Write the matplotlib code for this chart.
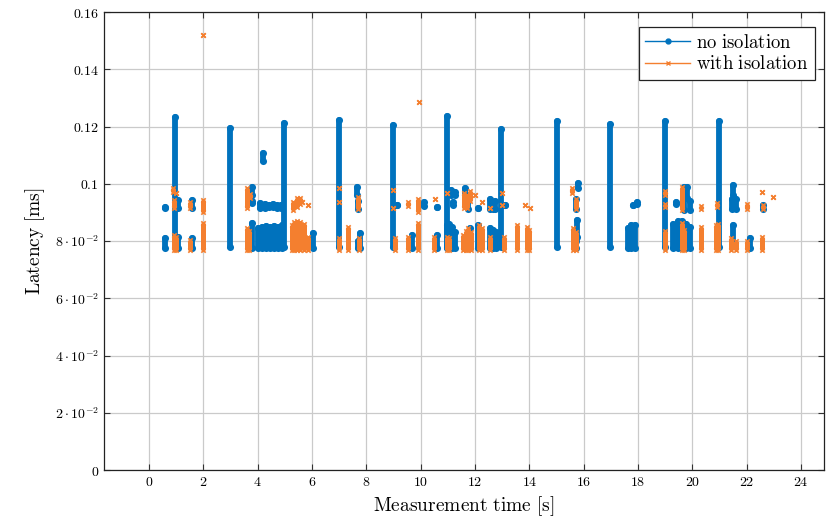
import matplotlib
matplotlib.use("Agg")
import matplotlib.pyplot as plt
from matplotlib.ticker import FixedLocator, FixedFormatter
import numpy as np

plt.rcParams['mathtext.fontset'] = 'cm'
plt.rcParams['font.family'] = ['DejaVu Serif']

# ---- data: vertical runs of measurements (time [s], latency low, latency high [ms]) ----
blue_x = [0.59, 0.59, 0.96, 1.05, 1.08, 1.57, 1.57, 2.97, 3.78, 3.78, 3.78,
          4.1, 4.25, 4.4, 4.55, 4.7, 4.85, 4.2,
          4.0, 4.15, 4.3, 4.45, 4.6, 4.75, 4.9,
          4.97, 6.04, 6.98, 7.65, 7.7, 7.75, 7.7,
          8.97, 9.12, 9.67, 10.1, 10.61, 10.61,
          10.96, 11.1, 11.2, 11.26, 10.95, 11.05, 11.15, 11.25,
          11.63, 11.75, 11.8, 12.12, 12.12, 12.55, 12.65, 12.73, 12.55, 12.65, 12.75,
          12.97, 13.1, 15.0, 15.8, 15.72, 15.75, 15.7,
          16.98, 17.63, 17.8, 17.95, 17.75, 17.9,
          18.99, 19.4, 19.7, 19.8, 19.9, 19.3, 19.45, 19.6, 19.75, 19.9,
          20.96, 21.5, 21.45, 21.6, 21.5, 22.1, 22.6]
blue_lo = [0.0915, 0.0776, 0.0779, 0.0915, 0.0776, 0.0915, 0.0776, 0.0779, 0.0961, 0.0932, 0.0776,
           0.0915, 0.0915, 0.0918, 0.0918, 0.0915, 0.0915, 0.1078,
           0.0776, 0.0776, 0.0776, 0.0776, 0.0776, 0.0776, 0.0776,
           0.0779, 0.0776, 0.0779, 0.0961, 0.0912, 0.0776, 0.0776,
           0.0779, 0.0926, 0.0776, 0.0922, 0.0918, 0.0776,
           0.0779, 0.0961, 0.0926, 0.0961, 0.0776, 0.0776, 0.0776, 0.0776,
           0.0961, 0.0912, 0.0776, 0.0917, 0.0776, 0.0912, 0.0912, 0.0912, 0.0776, 0.0776, 0.0776,
           0.0779, 0.0926, 0.0779, 0.0985, 0.0912, 0.0814, 0.0776,
           0.0779, 0.0776, 0.0926, 0.0930, 0.0776, 0.0776,
           0.0779, 0.0928, 0.0910, 0.0950, 0.0910, 0.0776, 0.0776, 0.0776, 0.0776, 0.0776,
           0.0779, 0.0961, 0.0912, 0.0912, 0.0798, 0.0776, 0.0912]
blue_hi = [0.0920, 0.0811, 0.1232, 0.0943, 0.0815, 0.0943, 0.0811, 0.1194, 0.0989, 0.0940, 0.0863,
           0.0933, 0.0930, 0.0925, 0.0928, 0.0925, 0.0925, 0.1108,
           0.0845, 0.0850, 0.0852, 0.0848, 0.0852, 0.0850, 0.0856,
           0.1211, 0.0828, 0.1222, 0.0989, 0.0940, 0.0828, 0.0800,
           0.1205, 0.0926, 0.0821, 0.0937, 0.0918, 0.0821,
           0.1237, 0.0978, 0.0937, 0.0970, 0.0856, 0.0860, 0.0850, 0.0830,
           0.0985, 0.0952, 0.0845, 0.0917, 0.0856, 0.0945, 0.0935, 0.0940, 0.0845, 0.0840, 0.0830,
           0.1190, 0.0926, 0.1218, 0.1002, 0.0945, 0.0873, 0.0800,
           0.1209, 0.0845, 0.0926, 0.0935, 0.0856, 0.0856,
           0.1218, 0.0935, 0.0990, 0.0990, 0.0940, 0.0860, 0.0870, 0.0870, 0.0860, 0.0850,
           0.1219, 0.0996, 0.0945, 0.0945, 0.0856, 0.0810, 0.0925]

orange_x = [0.88, 0.92, 1.0, 0.9, 0.98, 1.52, 1.52, 1.99, 1.99, 1.99,
            3.62, 3.7, 3.6, 3.68,
            5.3, 5.45, 5.55, 5.62, 5.25, 5.35, 5.45, 5.55, 5.7, 5.85, 5.85,
            6.98, 6.98, 6.98, 7.32, 7.7, 7.72,
            8.97, 8.97, 9.05, 9.54, 9.52, 9.9, 9.9, 9.94, 10.53, 10.5,
            10.96, 10.95, 11.05, 11.6, 11.7, 11.8, 11.55, 11.65, 11.75, 11.85,
            12.0, 12.24, 12.15, 12.25, 12.55, 12.55, 12.98, 12.98, 13.05, 13.53, 13.84, 14.02, 13.9, 14.0,
            15.57, 15.7, 15.6, 15.7,
            18.99, 18.99, 19.0, 19.6, 19.6, 19.7, 20.3, 20.3,
            20.9, 20.85, 20.95, 21.4, 21.6, 22.0, 22.02, 22.55, 22.6, 22.55, 22.98]
orange_lo = [0.0971, 0.0915, 0.0966, 0.0769, 0.0769, 0.0915, 0.0769, 0.1520, 0.0903, 0.0769,
             0.0915, 0.0950, 0.0769, 0.0769,
             0.0910, 0.0920, 0.0930, 0.0937, 0.0769, 0.0769, 0.0769, 0.0769, 0.0769, 0.0926, 0.0769,
             0.0985, 0.0937, 0.0769, 0.0769, 0.0912, 0.0769,
             0.0978, 0.0915, 0.0769, 0.0922, 0.0769, 0.0903, 0.0769, 0.1286, 0.0947, 0.0769,
             0.0966, 0.0769, 0.0769, 0.0915, 0.0915, 0.0940, 0.0769, 0.0769, 0.0769, 0.0769,
             0.0962, 0.0937, 0.0769, 0.0769, 0.0914, 0.0769, 0.0966, 0.0926, 0.0769, 0.0769, 0.0926, 0.0914, 0.0769, 0.0769,
             0.0966, 0.0912, 0.0769, 0.0769,
             0.0960, 0.0920, 0.0769, 0.0910, 0.0769, 0.0769, 0.0912, 0.0769,
             0.0920, 0.0769, 0.0769, 0.0769, 0.0769, 0.0912, 0.0769, 0.0971, 0.0912, 0.0769, 0.0955]
orange_hi = [0.0985, 0.0943, 0.0966, 0.0821, 0.0815, 0.0935, 0.0805, 0.1520, 0.0943, 0.0863,
             0.0985, 0.0965, 0.0845, 0.0835,
             0.0935, 0.0950, 0.0950, 0.0937, 0.0855, 0.0865, 0.0870, 0.0865, 0.0860, 0.0926, 0.0815,
             0.0985, 0.0937, 0.0810, 0.0849, 0.0955, 0.0810,
             0.0978, 0.0915, 0.0810, 0.0937, 0.0814, 0.0947, 0.0863, 0.1286, 0.0947, 0.0814,
             0.0966, 0.0814, 0.0810, 0.0966, 0.0960, 0.0975, 0.0821, 0.0835, 0.0845, 0.0830,
             0.0962, 0.0937, 0.0856, 0.0845, 0.0914, 0.0814, 0.0966, 0.0926, 0.0814, 0.0856, 0.0926, 0.0914, 0.0849, 0.0840,
             0.0985, 0.0945, 0.0845, 0.0830,
             0.0973, 0.0930, 0.0835, 0.0990, 0.0863, 0.0840, 0.0922, 0.0849,
             0.0932, 0.0856, 0.0860, 0.0810, 0.0800, 0.0930, 0.0800, 0.0971, 0.0925, 0.0814, 0.0955]

x_ticks = list(range(0, 26, 2))
y_ticks = [0, 0.02, 0.04, 0.06, 0.08, 0.1, 0.12, 0.14, 0.16]
y_tick_labels = ['0', r'$2\cdot10^{-2}$', r'$4\cdot10^{-2}$', r'$6\cdot10^{-2}$',
                 r'$8\cdot10^{-2}$', '0.1', '0.12', '0.14', '0.16']

blue = '#0072BD'
orange = '#F47F2F'

fig = plt.figure(figsize=(8.26, 5.22), dpi=100)
ax = fig.add_axes([104/826, 52/522, 720/826, 458/522])

ax.grid(True, color='#cacaca', linewidth=0.9, zorder=0)
ax.set_axisbelow(True)

bx = np.array(blue_x); blo = np.array(blue_lo); bhi = np.array(blue_hi)
ox = np.array(orange_x); olo = np.array(orange_lo); ohi = np.array(orange_hi)

ax.vlines(bx, blo, bhi, color=blue, linewidth=4.2, capstyle='round', zorder=3)
ax.scatter(bx, blo, s=26, color=blue, marker='o', linewidths=0, zorder=3)
ax.scatter(bx, bhi, s=26, color=blue, marker='o', linewidths=0, zorder=3)

ax.vlines(ox, olo, ohi, color=orange, linewidth=3.6, capstyle='butt', zorder=4)
ax.scatter(ox, olo, s=10, color=orange, marker='x', linewidths=1.2, zorder=4)
ax.scatter(ox, ohi, s=10, color=orange, marker='x', linewidths=1.2, zorder=4)

ax.set_xlim(-1.66, 24.84)
ax.set_ylim(0, 0.16)
ax.xaxis.set_major_locator(FixedLocator(x_ticks))
ax.set_xticklabels([r'$%d$' % t for t in x_ticks])
ax.yaxis.set_major_locator(FixedLocator(y_ticks))
ax.yaxis.set_major_formatter(FixedFormatter([l if l.startswith('$') else r'$%s$' % l for l in y_tick_labels]))
ax.tick_params(direction='in', top=True, right=True, length=4, width=0.8,
               labelsize=10, color='#333333')
for s in ax.spines.values():
    s.set_linewidth(0.9)
    s.set_color('#222222')

ax.set_xlabel(r'$\mathrm{Measurement\ time\ [s]}$', fontsize=14, labelpad=4)
ax.set_ylabel(r'$\mathrm{Latency\ [ms]}$', fontsize=14, labelpad=6)

h1, = ax.plot([], [], color=blue, marker='o', markersize=3.5, linewidth=1.0)
h2, = ax.plot([], [], color=orange, marker='x', markersize=2.5, linewidth=1.0)
leg = ax.legend([h1, h2], [r'$\mathrm{no\ isolation}$', r'$\mathrm{with\ isolation}$'],
                loc='upper right', bbox_to_anchor=(0.9875, 0.967), fontsize=13.5,
                frameon=True, fancybox=False, edgecolor='#222222', framealpha=1,
                handlelength=2.4, handletextpad=0.3, borderpad=0.35, labelspacing=0.2,
                borderaxespad=0)
leg.get_frame().set_linewidth(0.9)

fig.savefig('out.png', dpi=100)
